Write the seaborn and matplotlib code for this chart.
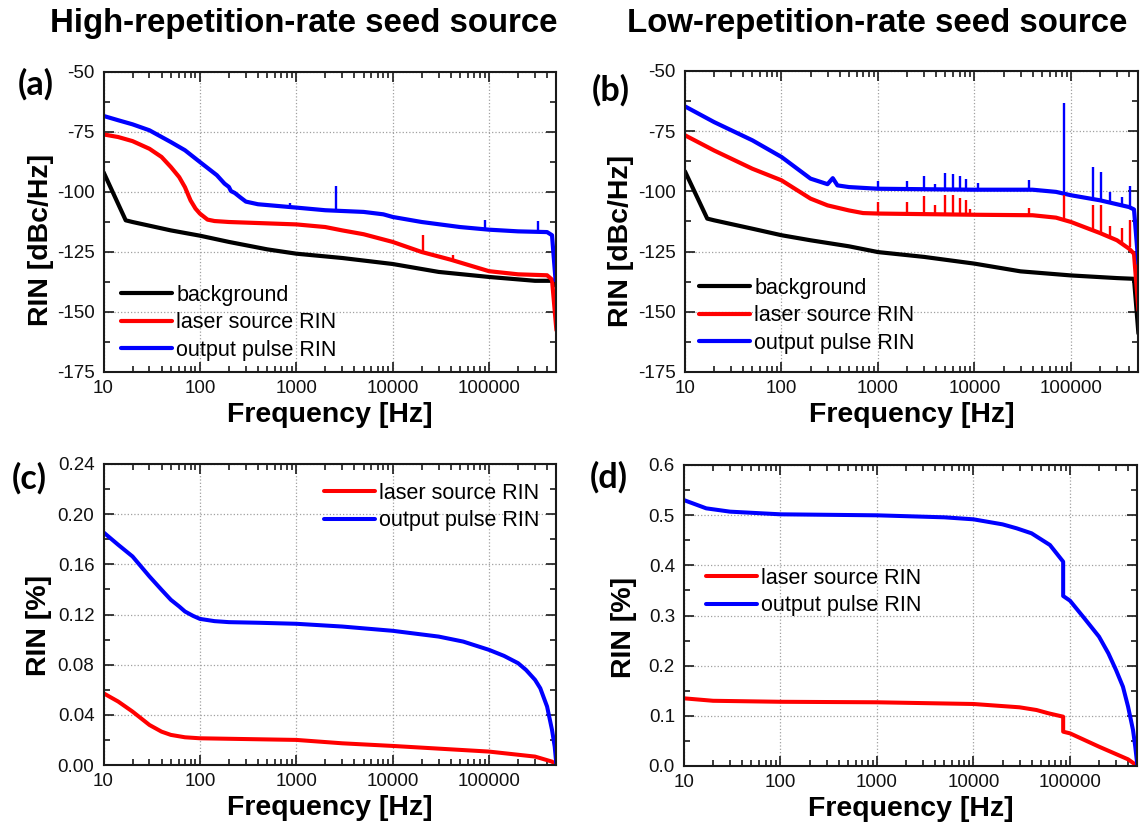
import numpy as np
import pandas as pd
import seaborn as sns
import matplotlib
matplotlib.use("Agg")
import matplotlib.pyplot as plt
from matplotlib.ticker import FixedLocator, LogLocator, FuncFormatter, MultipleLocator, NullFormatter

# ---------------- data ----------------
labels = ["background", "laser source RIN", "output pulse RIN"]
col_titles = ["High-repetition-rate seed source", "Low-repetition-rate seed source"]

# (a) high-rep, RIN spectrum [dBc/Hz]
a_bg_f = [10, 17, 20, 50, 100, 200, 500, 1000, 3000, 10000, 30000, 100000, 300000, 450000, 490000]
a_bg = [-91.7, -111.8, -112.5, -116, -118.2, -120.8, -123.9, -125.7, -127.5, -130, -133.3, -135.4, -137, -137, -139]
a_las_f = [10, 14.2, 20, 30, 40, 50, 61, 70, 80, 90, 100, 120, 142, 200, 1000, 2000, 3000, 5000, 10000, 20000, 40000, 100000, 200000, 400000, 450000, 500000]
a_las = [-76, -77.1, -78.8, -82, -85.4, -89.6, -93.8, -98, -103.5, -106.9, -109, -111.5, -112.1, -112.5, -113.5, -114.6, -116, -117.6, -120.8, -125, -128.2, -133, -134.3, -134.7, -136.5, -157.6]
a_out_f = [10, 14.2, 20, 30, 50, 70, 100, 150, 180, 200, 210, 230, 260, 300, 400, 1000, 2000, 5000, 8000, 10000, 20000, 50000, 100000, 200000, 400000, 450000, 490000]
a_out = [-68.3, -70.1, -71.8, -74.3, -79.2, -82.6, -87.5, -93, -96.5, -97.9, -99.6, -100.4, -102.1, -104, -105.1, -106.5, -107.6, -108.3, -109.3, -110.4, -112.5, -114.6, -115.7, -116.4, -116.7, -118, -136.8]
a_las_spk_f = [20500, 42000]
a_las_spk_lo = [-125, -128]
a_las_spk_hi = [-117.8, -126.4]
a_out_spk_f = [870, 2600, 90000, 322000]
a_out_spk_lo = [-106.5, -107.5, -115.5, -116.5]
a_out_spk_hi = [-104.6, -97.6, -111.8, -112]

# (b) low-rep, RIN spectrum [dBc/Hz]
b_bg_f = [10, 17, 20, 50, 100, 200, 500, 1000, 3000, 10000, 30000, 100000, 300000, 450000, 500000]
b_bg = [-91.7, -111.3, -112, -115.5, -118.2, -120.3, -122.8, -125.2, -127.2, -130, -133.2, -134.9, -136, -136.3, -159]
b_las_f = [10, 20, 50, 100, 200, 300, 500, 700, 1000, 10000, 40000, 70000, 100000, 200000, 300000, 400000, 450000, 500000]
b_las = [-76.7, -83, -90.6, -95.4, -103, -105.8, -107.9, -109, -109.2, -109.7, -109.9, -110.9, -112.7, -117.3, -120.3, -123.8, -125.9, -149.4]
b_out_f = [10, 20, 50, 100, 200, 300, 340, 380, 500, 1000, 10000, 40000, 70000, 100000, 200000, 400000, 450000, 500000]
b_out = [-64.7, -71.2, -78.8, -85.7, -94.7, -97, -94.5, -97.5, -98.2, -98.9, -99.3, -99.3, -100.2, -101.6, -103.7, -106.5, -107.5, -130]
b_las_spk_f = [1000, 2000, 2980, 3930, 5000, 6030, 7060, 8100, 9000, 37000, 84000, 168000, 203000, 255000, 336000, 406000]
b_las_spk_lo = [-109.3, -109.4, -109.4, -109.4, -109.5, -109.5, -109.5, -109.5, -109.6, -109.9, -112, -116.5, -117.3, -118.7, -121.5, -123]
b_las_spk_hi = [-104.4, -104.4, -102, -105.8, -101.6, -101.6, -102.7, -103.7, -107.3, -106.7, -101.6, -105.8, -105.8, -114.4, -115.2, -111.7]
b_out_spk_f = [1000, 2000, 2980, 3930, 5000, 6030, 7060, 8100, 11000, 37000, 84000, 168000, 203000, 255000, 336000, 406000]
b_out_spk_lo = [-99, -99.1, -99.1, -99.2, -99.2, -99.2, -99.2, -99.3, -99.3, -99.3, -101, -103.5, -104, -104.8, -106, -106.5]
b_out_spk_hi = [-95.8, -95.7, -93.6, -96.8, -92.4, -92.9, -93.6, -94.7, -96.5, -95.1, -63.3, -89.9, -92, -100.2, -102.3, -97.9]

# (c) high-rep, integrated RIN [%]
c_las_f = [10, 14.2, 20, 30, 40, 50, 70, 100, 1000, 3000, 10000, 100000, 300000, 450000, 500000]
c_las = [0.0572, 0.0506, 0.0426, 0.0319, 0.0266, 0.024, 0.0221, 0.0213, 0.020, 0.0173, 0.0152, 0.0107, 0.0067, 0.0027, 0.0]
c_out_f = [10, 14.2, 20, 30, 40, 50, 61, 70, 85, 100, 142, 200, 411, 1000, 3000, 10000, 30000, 54000, 100000, 143000, 200000, 242000, 300000, 340000, 400000, 450000, 480000, 500000]
c_out = [0.1855, 0.1756, 0.1663, 0.1503, 0.1397, 0.1317, 0.1264, 0.1224, 0.1189, 0.1165, 0.1147, 0.1139, 0.1134, 0.1126, 0.1104, 0.107, 0.1024, 0.0984, 0.0918, 0.087, 0.0812, 0.0758, 0.0679, 0.0612, 0.0466, 0.028, 0.0146, 0.0]

# (d) low-rep, integrated RIN [%]
d_las_f = [10, 20, 100, 1000, 10000, 30000, 45000, 60000, 85000, 85000, 100000, 200000, 400000, 500000]
d_las = [0.1349, 0.130, 0.128, 0.127, 0.1236, 0.117, 0.1116, 0.105, 0.0983, 0.0684, 0.0651, 0.0385, 0.0133, 0.0]
d_out_f = [10, 17, 30, 100, 1000, 5000, 10000, 20000, 28000, 40000, 62000, 85000, 85000, 100000, 141000, 200000, 250000, 300000, 354000, 400000, 450000, 475000, 500000]
d_out = [0.530, 0.5136, 0.507, 0.5017, 0.4997, 0.4957, 0.4917, 0.4817, 0.4738, 0.4638, 0.4405, 0.4073, 0.3389, 0.3296, 0.2944, 0.2578, 0.2246, 0.1914, 0.158, 0.1183, 0.0718, 0.0385, 0.0]

x_ticks = [10, 100, 1000, 10000, 100000]

# ---------------- style ----------------
sns.set_theme(style="ticks")
plt.rcParams["font.family"] = ["Liberation Sans", "DejaVu Sans"]
plt.rcParams["text.color"] = "black"
plt.rcParams["axes.labelcolor"] = "black"

COL = {"background": "#000000", "laser source RIN": "#ff0000", "output pulse RIN": "#0000ff"}
W, H = 1146, 825
fig = plt.figure(figsize=(W / 100, H / 100), dpi=100)


def fax(l, t, r, b):
    return fig.add_axes([l / W, 1 - b / H, (r - l) / W, (b - t) / H])


ax_a = fax(103.5, 72, 556, 372)
ax_b = fax(685, 71, 1138, 372)
ax_c = fax(103.5, 464, 556, 765)
ax_d = fax(684, 465, 1137, 766)


def line(ax, f, v, name, lw):
    sns.lineplot(x=f, y=v, ax=ax, color=COL[name], lw=lw, estimator=None, sort=False, label=name)


def spikes(ax, f, lo, hi, name):
    ax.vlines(f, lo, hi, color=COL[name], lw=1.7)


def style(ax, ylim, ymaj, ymin, yfmt):
    ax.set_xscale("log")
    ax.set_xlim(10, 4.95e5)
    ax.set_ylim(*ylim)
    ax.xaxis.set_major_locator(FixedLocator(x_ticks))
    ax.xaxis.set_major_formatter(FuncFormatter(lambda v, p: f"{int(round(v))}"))
    ax.xaxis.set_minor_locator(LogLocator(base=10, subs=np.arange(2, 10)))
    ax.xaxis.set_minor_formatter(NullFormatter())
    ax.yaxis.set_major_locator(MultipleLocator(ymaj))
    ax.yaxis.set_minor_locator(MultipleLocator(ymin))
    ax.yaxis.set_major_formatter(FuncFormatter(lambda v, p: yfmt.format(v)))
    ax.tick_params(which="both", direction="in", top=True, right=True, width=1.2, colors="#1a1a1a")
    ax.tick_params(which="major", length=7, labelsize=13.5, labelcolor="#111111")
    ax.tick_params(which="minor", length=4)
    ax.tick_params(axis="x", which="major", pad=5.5)
    ax.tick_params(axis="y", which="major", pad=6.5)
    ax.grid(True, which="major", ls=":", lw=0.9, color="#a0a0a0")
    for s in ax.spines.values():
        s.set_linewidth(1.5)
        s.set_color("#1a1a1a")
    ax.set_xlabel("Frequency [Hz]", fontsize=20.5, fontweight="bold", labelpad=4)


# (a)
line(ax_a, a_bg_f, a_bg, "background", 3.0)
line(ax_a, a_las_f, a_las, "laser source RIN", 3.0)
line(ax_a, a_out_f, a_out, "output pulse RIN", 3.0)
spikes(ax_a, a_las_spk_f, a_las_spk_lo, a_las_spk_hi, "laser source RIN")
spikes(ax_a, a_out_spk_f, a_out_spk_lo, a_out_spk_hi, "output pulse RIN")
style(ax_a, (-175, -50), 25, 12.5, "{:.0f}")
ax_a.set_ylabel("RIN [dBc/Hz]", fontsize=20.5, fontweight="bold")
ax_a.yaxis.set_label_coords(-0.11, 0.44)

# (b)
line(ax_b, b_bg_f, b_bg, "background", 3.0)
line(ax_b, b_las_f, b_las, "laser source RIN", 3.0)
line(ax_b, b_out_f, b_out, "output pulse RIN", 3.0)
spikes(ax_b, b_las_spk_f, b_las_spk_lo, b_las_spk_hi, "laser source RIN")
spikes(ax_b, b_out_spk_f, b_out_spk_lo, b_out_spk_hi, "output pulse RIN")
style(ax_b, (-175, -50), 25, 12.5, "{:.0f}")
ax_b.set_ylabel("RIN [dBc/Hz]", fontsize=20.5, fontweight="bold")
ax_b.yaxis.set_label_coords(-0.113, 0.435)

# (c)
line(ax_c, c_las_f, c_las, "laser source RIN", 2.9)
line(ax_c, c_out_f, c_out, "output pulse RIN", 2.9)
style(ax_c, (0, 0.24), 0.04, 0.02, "{:.2f}")
ax_c.set_ylabel("RIN [%]", fontsize=20.5, fontweight="bold")
ax_c.yaxis.set_label_coords(-0.113, 0.465)

# (d)
line(ax_d, d_las_f, d_las, "laser source RIN", 2.9)
line(ax_d, d_out_f, d_out, "output pulse RIN", 2.9)
style(ax_d, (0, 0.6), 0.1, 0.05, "{:.1f}")
ax_d.set_ylabel("RIN [%]", fontsize=20.5, fontweight="bold")
ax_d.yaxis.set_label_coords(-0.103, 0.462)


def legend(ax, x, y):
    ax.legend(loc="upper left", bbox_to_anchor=(x / W, 1 - y / H), bbox_transform=fig.transFigure,
              frameon=False, fontsize=15.5, handlelength=2.35, handletextpad=0.22, labelspacing=0.3,
              borderpad=0, borderaxespad=0)


legend(ax_a, 121, 285)
legend(ax_b, 699, 278)
legend(ax_c, 324, 483)
legend(ax_d, 706, 568)

# titles and panel letters
fig.text(303.5 / W, 1 - 32 / H, col_titles[0], ha="center", va="baseline", fontsize=23.8,
         fontweight="bold", color="black")
fig.text(877.5 / W, 1 - 32 / H, col_titles[1], ha="center", va="baseline", fontsize=23.8,
         fontweight="bold", color="black")
for lab, (x, y) in zip(["(a)", "(b)", "(c)", "(d)"], [(36, 84), (611, 90), (29, 478), (609, 477)]):
    fig.text(x / W, 1 - y / H, lab, ha="center", va="center", fontsize=24.5, fontweight="bold",
             family=["Lato", "DejaVu Sans"], color="black")

fig.savefig("out.png", dpi=100)
